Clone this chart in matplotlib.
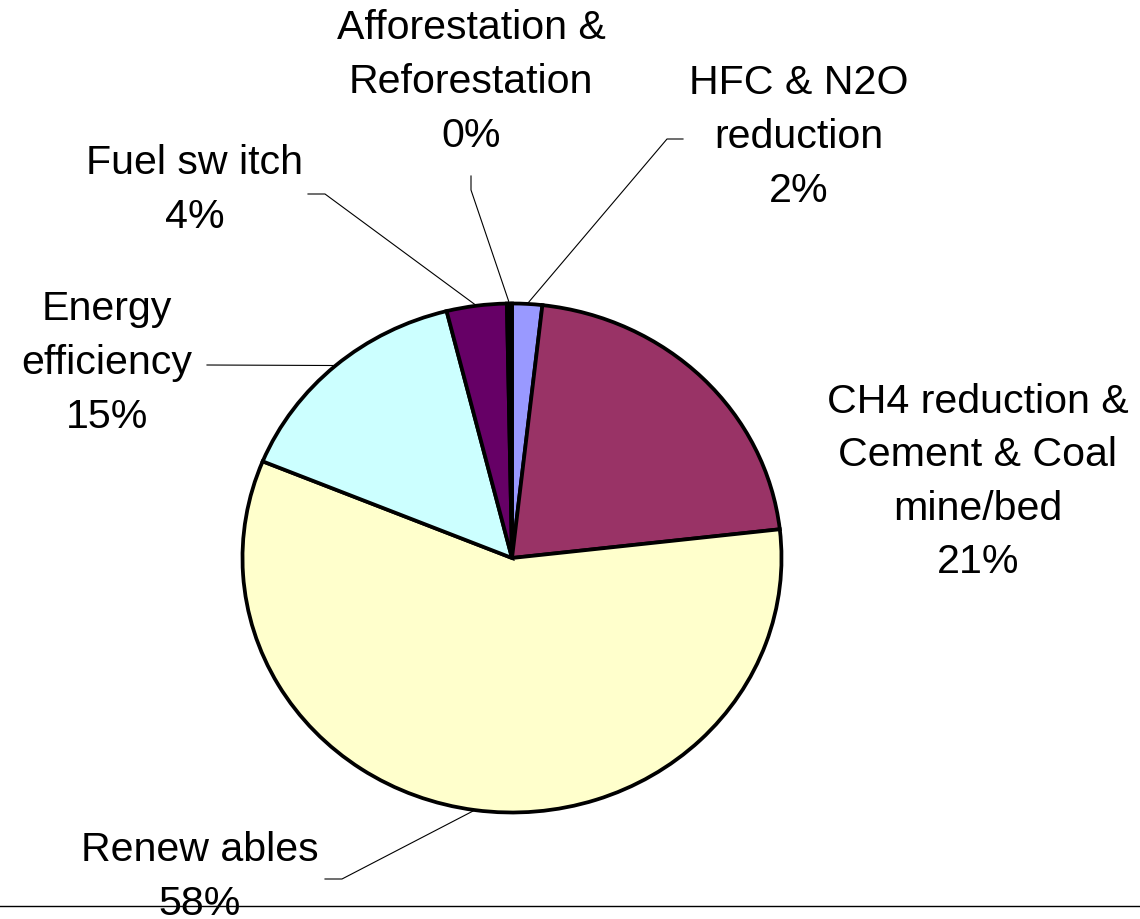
import numpy as np
import matplotlib
matplotlib.use('Agg')
import matplotlib.pyplot as plt

W, H = 1140, 919

# slices, clockwise from 12 o'clock
categories = ['HFC & N2O\nreduction',
              'CH4 reduction &\nCement & Coal\nmine/bed',
              'Renew ables',
              'Energy\nefficiency',
              'Fuel sw itch',
              'Afforestation &\nReforestation']
shares = [1.8, 21.4, 58.0, 14.9, 3.6, 0.3]
colors = ['#9999FF', '#993366', '#FFFFCC', '#CCFFFF', '#660066', '#000000']

# layout in figure pixels (y down): label centres and leader start/elbow
label_xy = [(799, 137), (978, 482), (200, 877), (107, 363), (195, 190), (471, 82)]
leaders = [((683, 139), (667, 139)), None, ((325, 879), (342, 879)),
           ((207, 365), (207, 365)), ((308, 194), (325, 194)),
           ((471, 176), (471, 190))]
pie_box = (242.5, 303.5, 781.5, 812.5)  # left, top, right, bottom

fig = plt.figure(figsize=(W / 100, H / 100), dpi=100)
bg = fig.add_axes([0, 0, 1, 1])
bg.set_xlim(0, W)
bg.set_ylim(H, 0)
bg.axis('off')

l, t, r, b = pie_box
pax = fig.add_axes([l / W, 1 - b / H, (r - l) / W, (b - t) / H])
wedges, _ = pax.pie(shares, colors=colors, startangle=90, counterclock=False,
                    wedgeprops=dict(edgecolor='black', linewidth=2.7))
pax.set_aspect('auto')
pax.set_xlim(-1, 1)
pax.set_ylim(-1, 1)
pax.axis('off')
for w in wedges:
    w.set_clip_on(False)

to_bg = bg.transData.inverted()
for w, cat, share, (tx, ty), ld in zip(wedges, categories, shares, label_xy, leaders):
    bg.text(tx, ty, f'{cat}\n{share:.0f}%', ha='center', va='center',
            fontsize=29.6, family='Liberation Sans', linespacing=1.52)
    if ld is None:
        continue
    mid = np.deg2rad((w.theta1 + w.theta2) / 2)
    ex, ey = to_bg.transform(pax.transData.transform((np.cos(mid), np.sin(mid))))
    (sx, sy), (kx, ky) = ld
    bg.plot([sx, kx, ex], [sy, ky, ey], color='black', lw=0.8)

bg.axhline(906, color='black', lw=1)

fig.savefig('out.png', dpi=100)
